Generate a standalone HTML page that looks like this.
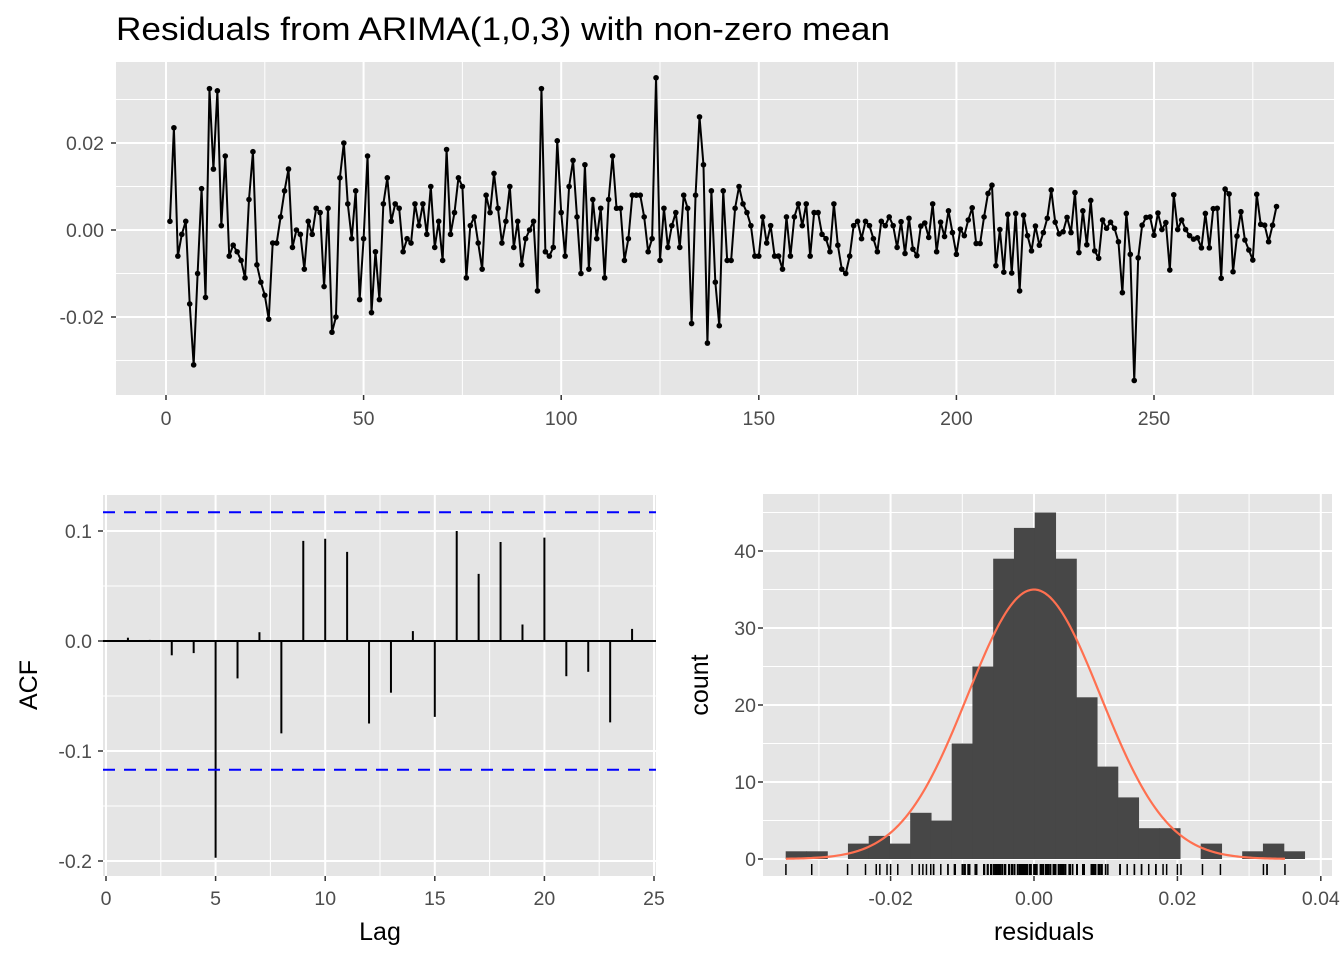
<!DOCTYPE html>
<html><head><meta charset="utf-8"><style>
html,body{margin:0;padding:0;background:#fff;}
svg{display:block;font-family:"Liberation Sans",Arial,sans-serif;}
</style></head><body>
<svg id="chart" width="1344" height="960" viewBox="0 0 1344 960" xmlns="http://www.w3.org/2000/svg">
<text x="116" y="40" font-size="32" fill="#000" textLength="774" lengthAdjust="spacingAndGlyphs">Residuals from ARIMA(1,0,3) with non-zero mean</text>
</svg>
<script>
// ---- data ----
const residuals = [2,23.5,-6,-1,2,-17,-31,-10,9.5,-15.5,
32.5,14,32,1,17,-6,-3.5,-5,-7,-11,
7,18,-8,-12,-15,-20.5,-3,-3,3,9,
14,-4,0,-1,-9,2,-1,5,4,-13,
5,-23.5,-20,12,20,6,-2,9,-16,-2,
17,-19,-5,-16,6,12,2,6,5,-5,
-2,-3,6,1,6,-1,10,-4,2,-7,
18.5,-1,4,12,10,-11,1,3,-3,-9,
8,4,13,5,-3,2,10,-4,2,-8,
-2,0,2,-14,32.5,-5,-6,-4,20.5,4,
-6,10,16,3,-10,15,-9,7,-2,5,
-11,7,17,5,5,-7,-2,8,8,8,
3,-5,-2,35,-7,5,-4,1,4,-4,
8,5,-21.5,8,26,15,-26,9,-12,-22,
9,-7,-7,5,10,6,4,1,-6,-6,
3,-3,1,-6,-6,-9,3,-6,3,6,
1,6,-6,4,4,-1,-2,-5,6,-3.5,
-9,-10,-6,1,2,-2,2,1,-2,-5,
2,1,3,1,-4,
1.9,-5.4,2.7,-4.4,-5.9,0.9,1.6,-1.7,6,-5,
1.8,-1.5,4.4,-0.6,-5.6,0.2,-1.3,2.3,5.1,-3.1,
-3.1,3,8.4,10.3,-8.2,0.1,-9.7,3.6,-9.9,3.8,
-14,3.4,-1.3,-4.8,0.9,-3.5,-0.6,2.7,9.2,1.8,
-0.9,-0.4,2.9,-0.6,8.6,-5.2,4.4,-3.4,6.8,-4.8,
-6.5,2.3,0.4,1.8,0.4,-2.7,-14.4,3.8,-5.6,-34.6,
-6.4,1.1,2.9,3,-1.2,3.9,0.1,1.7,-9.2,8.1,
0.1,2.3,0.1,-1.3,-2.1,-1.8,-4.1,3.8,-4.1,4.9,
5,-11.1,9.4,8.3,-9.6,-1.4,4.2,-2.3,-4.6,-6.9,
8.2,1.3,1.1,-2.7,1.1,5.4].map(v=>v/1000);
const acfLags = [1,2,3,4,5,6,7,8,9,10,11,12,13,14,15,16,17,18,19,20,21,22,23,24];
const acfValues = [0.003,0.001,-0.013,-0.011,-0.197,-0.034,0.008,-0.084,0.091,0.093,0.081,-0.075,-0.047,0.009,-0.069,0.100,0.061,0.090,0.015,0.094,-0.032,-0.028,-0.074,0.011];
const acfBound = 0.117;
const histCounts = [1,1,0,2,3,2,6,5,15,25,39,43,45,39,21,12,8,4,4,0,2,0,1,2,1];
const histStart = -0.03459;
const histBinWidth = 0.002894;
const normMean = 0, normSd = 0.00927;
const tsXTicks = [0,50,100,150,200,250];
const tsYTicks = [-0.02,0,0.02];
const tsYLabels = ["-0.02","0.00","0.02"];
const acfXTicks = [0,5,10,15,20,25];
const acfYTicks = [-0.2,-0.1,0,0.1];
const acfYLabels = ["-0.2","-0.1","0.0","0.1"];
const histXTicks = [-0.02,0,0.02,0.04];
const histXLabels = ["-0.02","0.00","0.02","0.04"];
const histYTicks = [0,10,20,30,40];

const NS="http://www.w3.org/2000/svg";
const svg=document.getElementById('chart');
function mk(tag,attrs,parent){const e=document.createElementNS(NS,tag);for(const k in attrs)e.setAttribute(k,attrs[k]);(parent||svg).appendChild(e);return e;}
function txt(s,x,y,anchor,size,fill,parent){const t=mk('text',{x:x,y:y,'text-anchor':anchor,'font-size':size,fill:fill},parent);t.textContent=s;return t;}
const TS=19.5, AT=25;

// ---- panel: time series ----
const ts={l:116,r:1334,t:62,b:395};
const tx=i=>166+i*3.952, ty=v=>230-v*4350;
const g1=mk('g',{});


mk('rect',{x:ts.l,y:ts.t,width:ts.r-ts.l,height:ts.b-ts.t,fill:'#e5e5e5'},g1);
[-0.03,-0.01,0.01,0.03].forEach(v=>mk('line',{x1:ts.l,x2:ts.r,y1:ty(v),y2:ty(v),stroke:'#fff','stroke-width':1},g1));
[25,75,125,175,225,275].forEach(v=>mk('line',{x1:tx(v),x2:tx(v),y1:ts.t,y2:ts.b,stroke:'#fff','stroke-width':1},g1));
tsYTicks.forEach((v,k)=>{mk('line',{x1:ts.l,x2:ts.r,y1:ty(v),y2:ty(v),stroke:'#fff','stroke-width':2},g1);
 mk('line',{x1:ts.l-5,x2:ts.l,y1:ty(v),y2:ty(v),stroke:'#333','stroke-width':1.5},g1);
 const t=txt(tsYLabels[k],ts.l-12,ty(v)+7,'end',TS,'#4d4d4d',g1);
 
 });
tsXTicks.forEach(v=>{mk('line',{x1:tx(v),x2:tx(v),y1:ts.t,y2:ts.b,stroke:'#fff','stroke-width':2},g1);
 mk('line',{x1:tx(v),x2:tx(v),y1:ts.b,y2:ts.b+5,stroke:'#333','stroke-width':1.5},g1);
 const t=txt(String(v),tx(v),ts.b+30,'middle',TS,'#4d4d4d',g1);
 
 });
const pts=residuals.map((v,i)=>tx(i+1).toFixed(2)+','+ty(v).toFixed(2)).join(' ');
const pl=mk('polyline',{points:pts,fill:'none',stroke:'#000','stroke-width':2,'stroke-linejoin':'round'},g1);


residuals.forEach((v,i)=>{const c=mk('circle',{cx:tx(i+1),cy:ty(v),r:2.8,fill:'#000'},g1);
 
 });

// ---- panel: ACF ----
const ap={l:103,r:656,t:495,b:876};
const ax=l=>106+l*21.92, ay=v=>641-v*1100;
const g2=mk('g',{});


mk('rect',{x:ap.l,y:ap.t,width:ap.r-ap.l,height:ap.b-ap.t,fill:'#e5e5e5'},g2);
[-0.15,-0.05,0.05].forEach(v=>mk('line',{x1:ap.l,x2:ap.r,y1:ay(v),y2:ay(v),stroke:'#fff','stroke-width':1},g2));
[2.5,7.5,12.5,17.5,22.5].forEach(v=>mk('line',{x1:ax(v),x2:ax(v),y1:ap.t,y2:ap.b,stroke:'#fff','stroke-width':1},g2));
acfYTicks.forEach((v,k)=>{mk('line',{x1:ap.l,x2:ap.r,y1:ay(v),y2:ay(v),stroke:'#fff','stroke-width':2},g2);
 mk('line',{x1:ap.l-5,x2:ap.l,y1:ay(v),y2:ay(v),stroke:'#333','stroke-width':1.5},g2);
 const t=txt(acfYLabels[k],ap.l-11,ay(v)+7,'end',TS,'#4d4d4d',g2);
 
 });
acfXTicks.forEach(v=>{mk('line',{x1:ax(v),x2:ax(v),y1:ap.t,y2:ap.b,stroke:'#fff','stroke-width':2},g2);
 mk('line',{x1:ax(v),x2:ax(v),y1:ap.b,y2:ap.b+5,stroke:'#333','stroke-width':1.5},g2);
 const t=txt(String(v),ax(v),ap.b+29,'middle',TS,'#4d4d4d',g2);
 
 });
mk('line',{x1:ap.l,x2:ap.r,y1:ay(0),y2:ay(0),stroke:'#000','stroke-width':2},g2);
acfLags.forEach((l,k)=>{const ln=mk('line',{x1:ax(l),x2:ax(l),y1:ay(0),y2:ay(acfValues[k]),stroke:'#000','stroke-width':2},g2);
 
 });
[acfBound,-acfBound].forEach(v=>{const ln=mk('line',{x1:ap.l,x2:ap.r,y1:ay(v),y2:ay(v),stroke:'#0000ff','stroke-width':2,'stroke-dasharray':'12,9'},g2);
 
 });
const lagT=txt('Lag',380,940,'middle',AT,'#000',g2);


const acfT=txt('ACF',0,0,'middle',AT,'#000',g2);
acfT.setAttribute('transform','translate(37,685) rotate(-90)');



// ---- panel: histogram ----
const hp={l:763,r:1332,t:494,b:876};
const hx=v=>1034+v*7170, hy=c=>859-c*7.7;
const g3=mk('g',{});


mk('rect',{x:hp.l,y:hp.t,width:hp.r-hp.l,height:hp.b-hp.t,fill:'#e5e5e5'},g3);
[5,15,25,35,45].forEach(v=>mk('line',{x1:hp.l,x2:hp.r,y1:hy(v),y2:hy(v),stroke:'#fff','stroke-width':1},g3));
[-0.03,-0.01,0.01,0.03].forEach(v=>mk('line',{x1:hx(v),x2:hx(v),y1:hp.t,y2:hp.b,stroke:'#fff','stroke-width':1},g3));
histYTicks.forEach(v=>{mk('line',{x1:hp.l,x2:hp.r,y1:hy(v),y2:hy(v),stroke:'#fff','stroke-width':2},g3);
 mk('line',{x1:hp.l-5,x2:hp.l,y1:hy(v),y2:hy(v),stroke:'#333','stroke-width':1.5},g3);
 const t=txt(String(v),hp.l-7,hy(v)+7,'end',TS,'#4d4d4d',g3);
 
 });
histXTicks.forEach((v,k)=>{mk('line',{x1:hx(v),x2:hx(v),y1:hp.t,y2:hp.b,stroke:'#fff','stroke-width':2},g3);
 mk('line',{x1:hx(v),x2:hx(v),y1:hp.b,y2:hp.b+5,stroke:'#333','stroke-width':1.5},g3);
 const t=txt(histXLabels[k],hx(v),hp.b+29,'middle',TS,'#4d4d4d',g3);
 
 });
histCounts.forEach((c,k)=>{if(!c)return;const x0=hx(histStart+k*histBinWidth),x1=hx(histStart+(k+1)*histBinWidth);
 const r=mk('rect',{x:x0-0.3,y:hy(c),width:x1-x0+0.6,height:hy(0)-hy(c),fill:'#474747'},g3);
 
 });
const rmin=Math.min(...residuals), rmax=Math.max(...residuals);
const n=residuals.length; let cp=[];
for(let i=0;i<=200;i++){const v=rmin+(rmax-rmin)*i/200;const d=Math.exp(-0.5*Math.pow((v-normMean)/normSd,2))/(normSd*Math.sqrt(2*Math.PI));
 cp.push(hx(v).toFixed(2)+','+hy(n*histBinWidth*d).toFixed(2));}
const curve=mk('polyline',{points:cp.join(' '),fill:'none',stroke:'#ff7050','stroke-width':2.2},g3);


residuals.forEach(v=>{const ln=mk('line',{x1:hx(v),x2:hx(v),y1:864,y2:875,stroke:'#000','stroke-width':1.5},g3);
 
 });
const resT=txt('residuals',1044,940,'middle',AT,'#000',g3);


const cntT=txt('count',0,0,'middle',AT,'#000',g3);
cntT.setAttribute('transform','translate(708,685) rotate(-90)');


</script>
</body></html>
